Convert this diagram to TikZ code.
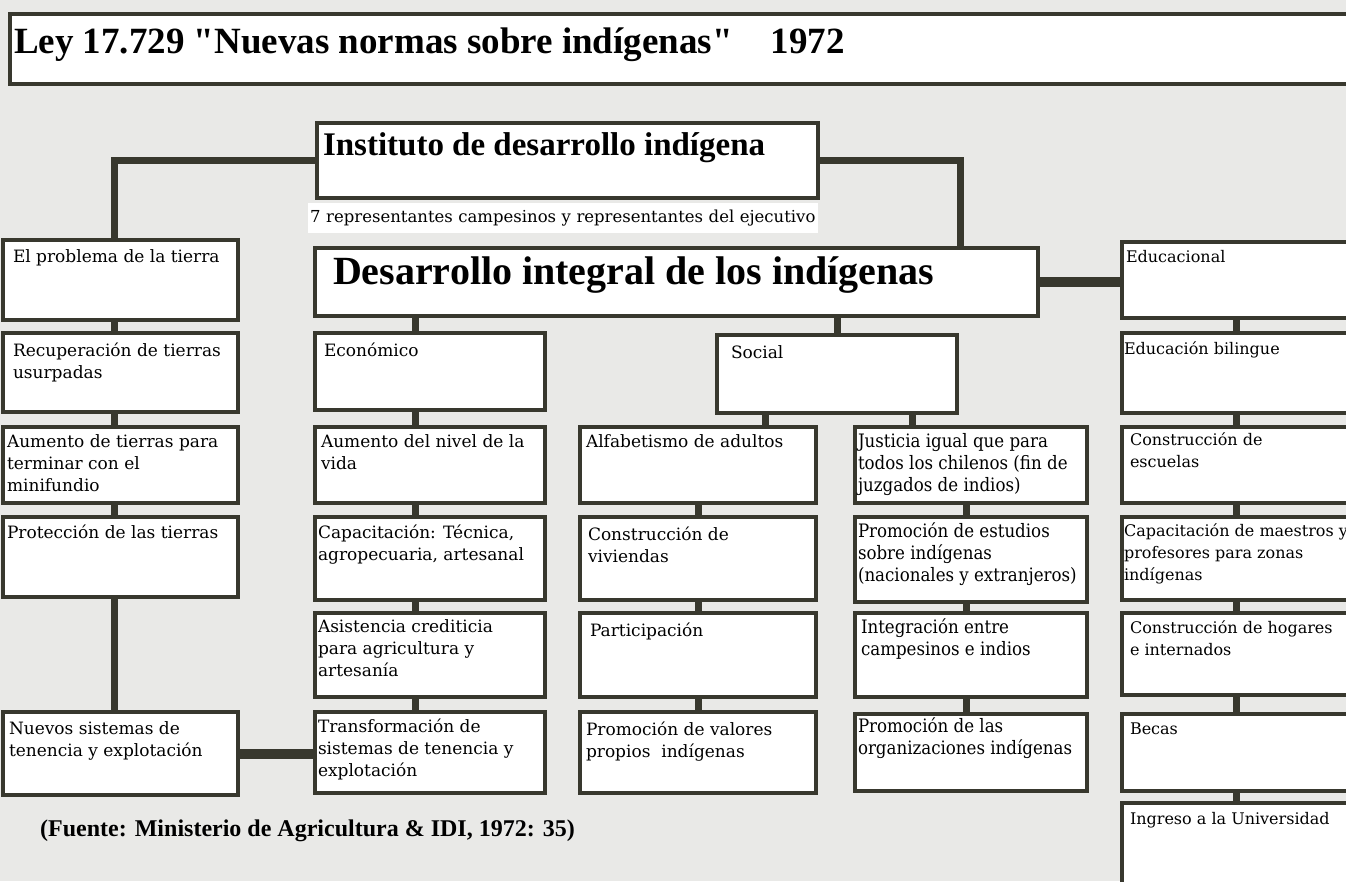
\documentclass[tikz,border=0pt]{standalone}
\usepackage{fontspec}
\setmainfont{DejaVu Serif}
\newfontfamily\titulofont{Liberation Serif}
\newfontfamily\estrechafont{DejaVu Serif Condensed}
\definecolor{linea}{RGB}{56,56,46}
\definecolor{fondo}{RGB}{233,233,231}
\newcommand{\margen}{10pt}
\newcommand{\sangria}{6pt}
\tikzset{
  margen/.code={\def\margen{#1}},
  sangria/.code={\def\sangria{#1}},
  caja/.style 2 args={draw=linea, line width=3.5pt, fill=white, anchor=north west,
    inner sep=0pt, outer sep=0pt, minimum width=#1, minimum height=#2,
    font=\fontsize{17}{22}\selectfont,
    execute at begin node={\begin{minipage}[t][#2][t]{#1}\raggedright\leftskip=\sangria\vspace*{\margen}},
    execute at end node={\end{minipage}}},
  estrecha/.style={font=\estrechafont\fontsize{18.5}{22}\selectfont, sangria=3pt},
  menor/.style={font=\fontsize{16}{22}\selectfont},
  union/.style={draw=linea, line width=7pt},
  union gruesa/.style={draw=linea, line width=10pt}
}

\begin{document}
\begin{tikzpicture}[x=1pt, y=-1pt]
  \useasboundingbox (0,0) rectangle (1346,881);
  \fill[fondo] (0,0) rectangle (1346,881);

  % cabecera
  \node[caja={1345pt}{70pt}, margen=14pt, sangria=4pt, font=\titulofont\bfseries\fontsize{37}{40}\selectfont] (titulo) at (10,14) {Ley 17.729 "Nuevas normas sobre indígenas"\hspace*{38pt}1972};
  \node[caja={501pt}{75pt}, margen=10pt, font=\titulofont\bfseries\fontsize{33}{36}\selectfont] (inst) at (317,123) {Instituto de desarrollo indígena};
  \node[fill=white, anchor=north west, inner sep=2pt, minimum width=510pt, minimum height=30pt, text width=506pt, align=left, font=\fontsize{16.5}{18}\selectfont] (repr) at (308,203) {7 representantes campesinos y representantes del ejecutivo};
  \node[caja={723pt}{68pt}, margen=9pt, font=\titulofont\bfseries\fontsize{40}{44}\selectfont] (desa) at (315,248) {\hspace*{12pt}Desarrollo integral de los indígenas};

  % la tierra
  \node[caja={235pt}{80pt}, sangria=10pt] (prob) at (3,240) {El problema de la tierra};
  \node[caja={235pt}{79pt}, sangria=10pt] (recu) at (3,333) {Recuperación de tierras\\usurpadas};
  \node[caja={235pt}{76pt}, sangria=4pt, margen=8pt] (aum) at (3,427) {Aumento de tierras para\\terminar con el\\minifundio};
  \node[caja={235pt}{80pt}, sangria=4pt, margen=8pt] (prot) at (3,517) {Protección de las tierras};
  \node[caja={235pt}{83pt}] (nuev) at (3,712) {Nuevos sistemas de\\tenencia y explotación};

  % economico
  \node[caja={230pt}{77pt}, sangria=9pt] (econ) at (315,333) {Económico};
  \node[caja={230pt}{76pt}, margen=8pt] (nivel) at (315,427) {Aumento del nivel de la\\vida};
  \node[caja={230pt}{83pt}, sangria=3pt, margen=8pt] (capa) at (315,517) {Capacitación: Técnica,\\agropecuaria, artesanal};
  \node[caja={230pt}{84pt}, sangria=3pt, margen=7pt] (asis) at (315,613) {Asistencia crediticia\\para agricultura y\\artesanía};
  \node[caja={230pt}{81pt}, sangria=3pt, margen=7pt] (trans) at (315,712) {Transformación de\\sistemas de tenencia y\\explotación};

  % social
  \node[caja={240pt}{78pt}, margen=11pt] (soc) at (717,335) {\hspace*{8pt}Social};
  \node[caja={236pt}{76pt}, margen=8pt] (alfa) at (580,427) {Alfabetismo de adultos};
  \node[caja={236pt}{83pt}, sangria=8pt] (vivi) at (580,517) {Construcción de\\viviendas};
  \node[caja={236pt}{84pt}, sangria=10pt] (part) at (580,613) {Participación};
  \node[caja={236pt}{81pt}] (valo) at (580,712) {Promoción de valores\\propios\ \ indígenas};
  \node[caja={232pt}{76pt}, estrecha, margen=6pt] (just) at (855,427) {Justicia igual que para\\todos los chilenos (fin de\\juzgados de indios)};
  \node[caja={232pt}{85pt}, estrecha, margen=6pt] (estu) at (855,517) {Promoción de estudios\\sobre indígenas\\(nacionales y extranjeros)};
  \node[caja={232pt}{84pt}, estrecha, sangria=6pt, margen=6pt] (inte) at (855,613) {Integración entre\\campesinos e indios};
  \node[caja={232pt}{77pt}, estrecha, margen=4pt] (orga) at (855,714) {Promoción de las\\organizaciones indígenas};

  % educacional
  \node[caja={260pt}{76pt}, menor, sangria=4pt, margen=8pt] (educ) at (1122,242) {Educacional};
  \node[caja={260pt}{80pt}, menor, sangria=2pt, margen=9pt] (bili) at (1122,333) {Educación bilingue};
  \node[caja={260pt}{76pt}, menor, sangria=8pt, margen=6pt] (escu) at (1122,427) {Construcción de\\escuelas};
  \node[caja={260pt}{83pt}, menor, sangria=2pt, margen=7pt] (maes) at (1122,517) {Capacitación de maestros y\\profesores para zonas\\indígenas};
  \node[caja={260pt}{82pt}, menor, sangria=8pt, margen=8pt] (hoga) at (1122,613) {Construcción de hogares\\e internados};
  \node[caja={260pt}{77pt}, menor, sangria=8pt, margen=9pt] (beca) at (1122,714) {Becas};
  \node[caja={260pt}{90pt}, menor, sangria=8pt, margen=9pt] (ingr) at (1122,803) {Ingreso a la Universidad};

  \node[anchor=base west, inner sep=0pt, font=\titulofont\bfseries\fontsize{24}{28}\selectfont] (fuente) at (40,836) {(Fuente: Ministerio de Agricultura \& IDI, 1972: 35)};

  % uniones
  \draw[union] (inst.west) -| ([xshift=-6]prob.north);
  \draw[union] (inst.east) -| ([xshift=-78]desa.north east);
  \draw[union gruesa] (desa.east) -- (desa.east -| educ.west);
  \draw[union] ([xshift=-6]prob.south) -- ([xshift=-6]recu.north);
  \draw[union] ([xshift=-6]recu.south) -- ([xshift=-6]aum.north);
  \draw[union] ([xshift=-6]aum.south) -- ([xshift=-6]prot.north);
  \draw[union] ([xshift=-6]prot.south) -- ([xshift=-6]nuev.north);
  \draw[union gruesa] (nuev.east) -- (nuev.east -| trans.west);

  \draw[union] ([xshift=-15]econ.north |- desa.south) -- ([xshift=-15]econ.north);
  \draw[union] ([xshift=-15]econ.south) -- ([xshift=-15]nivel.north);
  \draw[union] ([xshift=-15]nivel.south) -- ([xshift=-15]capa.north);
  \draw[union] ([xshift=-15]capa.south) -- ([xshift=-15]asis.north);
  \draw[union] ([xshift=-15]asis.south) -- ([xshift=-15]trans.north);

  \draw[union] (soc.north |- desa.south) -- (soc.north);
  \draw[union] ([xshift=48]soc.south west) -- ([xshift=48]soc.south west |- alfa.north);
  \draw[union] ([xshift=195]soc.south west) -- ([xshift=195]soc.south west |- just.north);
  \draw[union] (alfa.south) -- (vivi.north);
  \draw[union] (vivi.south) -- (part.north);
  \draw[union] (part.south) -- (valo.north);
  \draw[union] ([xshift=-5]just.south) -- ([xshift=-5]estu.north);
  \draw[union] ([xshift=-5]estu.south) -- ([xshift=-5]inte.north);
  \draw[union] ([xshift=-5]inte.south) -- ([xshift=-5]orga.north);

  \draw[union] ([xshift=-16]educ.south) -- ([xshift=-16]bili.north);
  \draw[union] ([xshift=-16]bili.south) -- ([xshift=-16]escu.north);
  \draw[union] ([xshift=-16]escu.south) -- ([xshift=-16]maes.north);
  \draw[union] ([xshift=-16]maes.south) -- ([xshift=-16]hoga.north);
  \draw[union] ([xshift=-16]hoga.south) -- ([xshift=-16]beca.north);
  \draw[union] ([xshift=-16]beca.south) -- ([xshift=-16]ingr.north);
\end{tikzpicture}
\end{document}
